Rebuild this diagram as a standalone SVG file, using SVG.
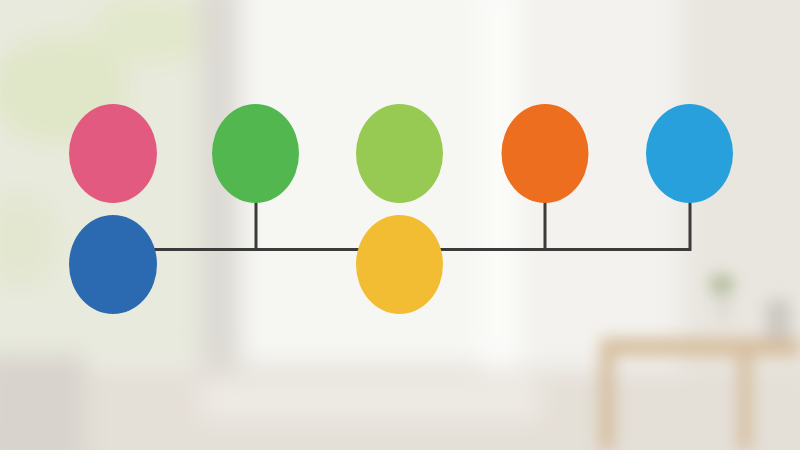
<svg xmlns="http://www.w3.org/2000/svg" width="800" height="450" viewBox="0 0 800 450">
  <defs>
    <filter id="blur" x="-20%" y="-20%" width="140%" height="140%"><feGaussianBlur stdDeviation="12"/></filter>
    <filter id="blurS" x="-20%" y="-20%" width="140%" height="140%"><feGaussianBlur stdDeviation="8"/></filter>
    <linearGradient id="bg" x1="0" y1="0" x2="0" y2="1">
      <stop offset="0" stop-color="#eeede8"/>
      <stop offset="0.75" stop-color="#f1f0ec"/>
      <stop offset="1" stop-color="#e6e1d9"/>
    </linearGradient>
    <style>
      .conn { stroke: #3b3b3b; stroke-width: 3; fill: none; stroke-linecap: square; }
    </style>
  </defs>

  <!-- blurred room background -->
  <g id="background">
    <rect width="800" height="450" fill="url(#bg)"/>
    <g filter="url(#blur)">
      <rect x="-20" y="-20" width="220" height="380" fill="#e8eadd"/>
      <ellipse cx="60" cy="90" rx="70" ry="55" fill="#e0e6c8"/>
      <ellipse cx="150" cy="30" rx="60" ry="35" fill="#e2e8cc"/>
      <ellipse cx="20" cy="240" rx="40" ry="50" fill="#e3e7d0"/>
      <rect x="200" y="-20" width="40" height="420" fill="#dcd9d3"/>
      <rect x="240" y="-20" width="250" height="380" fill="#f6f6f3"/>
      <rect x="480" y="-20" width="40" height="420" fill="#fbfbf9"/>
      <rect x="520" y="-20" width="160" height="420" fill="#f3f2ee"/>
      <rect x="680" y="-20" width="140" height="420" fill="#e9e6e0"/>
      <rect x="-20" y="370" width="840" height="100" fill="#e4dfd7"/>
      <rect x="-20" y="355" width="105" height="120" fill="#d8d3cc"/>
      <rect x="200" y="380" width="340" height="40" fill="#eeeae4"/>
    </g>
    <g filter="url(#blurS)">
      <rect x="600" y="338" width="200" height="18" fill="#d6bd9c"/>
      <rect x="600" y="350" width="14" height="100" fill="#d4bb9b"/>
      <rect x="738" y="350" width="14" height="100" fill="#d6bea0"/>
      <ellipse cx="722" cy="285" rx="12" ry="10" fill="#a9b68e"/>
      <rect x="716" y="292" width="14" height="28" fill="#dcd8d0"/>
      <rect x="766" y="300" width="24" height="38" fill="#cbc7c1"/>
    </g>
  </g>

  <!-- connectors -->
  <g id="connectors">
    <polyline class="conn" points="113,249.5 690,249.5 690,198"/>
    <line class="conn" x1="256" y1="198" x2="256" y2="249.5"/>
    <line class="conn" x1="545" y1="198" x2="545" y2="249.5"/>
  </g>

  <!-- nodes -->
  <g id="node-pink"><ellipse cx="113" cy="153.5" rx="44" ry="49.5" fill="#e35a80"/></g>
  <g id="node-green"><ellipse cx="255.5" cy="153.5" rx="43.5" ry="49.5" fill="#52b74f"/></g>
  <g id="node-lightgreen"><ellipse cx="399.5" cy="153.5" rx="43.5" ry="49.5" fill="#97ca52"/></g>
  <g id="node-orange"><ellipse cx="545" cy="153.5" rx="43.5" ry="49.5" fill="#ec6e1e"/></g>
  <g id="node-skyblue"><ellipse cx="689.5" cy="153.5" rx="43.5" ry="49.5" fill="#27a0dc"/></g>
  <g id="node-blue"><ellipse cx="113" cy="264.5" rx="44" ry="49.5" fill="#2b6ab0"/></g>
  <g id="node-yellow"><ellipse cx="399.5" cy="264.5" rx="43.5" ry="49.5" fill="#f2bd32"/></g>
</svg>
